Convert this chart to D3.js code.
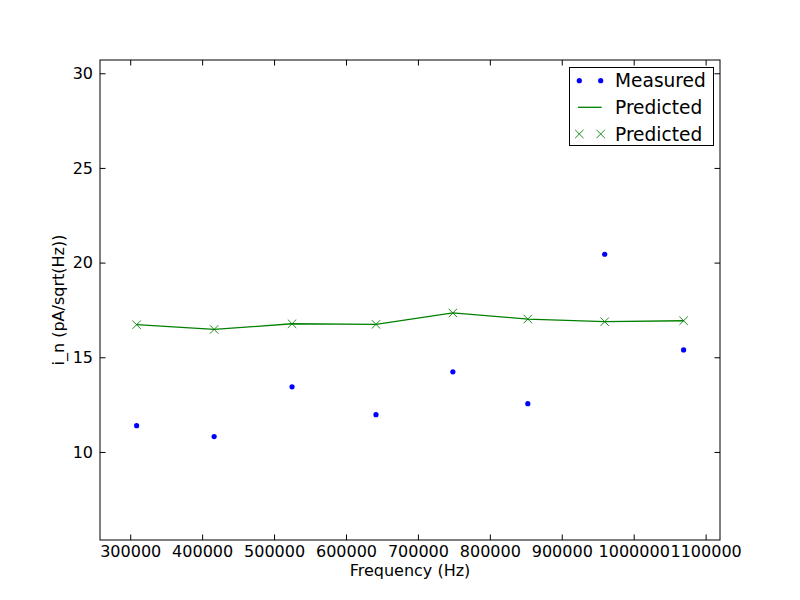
<!DOCTYPE html>
<html>
<head>
<meta charset="utf-8">
<script src="https://cdn.jsdelivr.net/npm/d3@7"></script>
<style>
  body { margin: 0; background: #fff; }
  svg { font-family: "DejaVu Sans", sans-serif; }
</style>
</head>
<body>
<div id="chart"></div>
<script>
// Noise current vs frequency: measured points and predicted curve

var freq = [308900, 416700, 525000, 641700, 748600, 852800, 959700, 1069400];
var measured = [11.39, 10.81, 13.44, 11.97, 14.23, 12.55, 20.44, 15.39];
var predicted = [16.72, 16.47, 16.77, 16.74, 17.34, 17.02, 16.88, 16.93];
var xTicks = [300000, 400000, 500000, 600000, 700000, 800000, 900000, 1000000, 1100000];
var yTicks = [10, 15, 20, 25, 30];
var legendNames = ["Measured", "Predicted", "Predicted"];

var svgWidth = 800, svgHeight = 600;
var margin = {top: 60, right: 80, bottom: 60, left: 100};
var chartWidth = svgWidth - margin.left - margin.right;
var chartHeight = svgHeight - margin.top - margin.bottom;

var svg = d3.select("#chart").append("svg")
    .attr("width", svgWidth)
    .attr("height", svgHeight);

var chartGroup = svg.append("g")
    .attr("transform", `translate(${margin.left}, ${margin.top})`);

var xScale = d3.scaleLinear().domain([258000, 1120000]).range([0, chartWidth]);
var yScale = d3.scaleLinear().domain([5.35, 30.7]).range([chartHeight, 0]);

var tickLen = 5.5;

// bottom axis (ticks pointing in)
var xAxis = chartGroup.append("g")
    .attr("transform", `translate(0, ${chartHeight})`)
    .call(d3.axisBottom(xScale).tickValues(xTicks).tickFormat(d3.format("d"))
        .tickSizeInner(-tickLen).tickSizeOuter(0).tickPadding(5.7));

var yAxis = chartGroup.append("g")
    .call(d3.axisLeft(yScale).tickValues(yTicks).tickFormat(d3.format("d"))
        .tickSizeInner(-tickLen).tickSizeOuter(0).tickPadding(7));

var topAxis = chartGroup.append("g")
    .call(d3.axisTop(xScale).tickValues(xTicks).tickFormat("")
        .tickSizeInner(-tickLen).tickSizeOuter(0));

var rightAxis = chartGroup.append("g")
    .attr("transform", `translate(${chartWidth}, 0)`)
    .call(d3.axisRight(yScale).tickValues(yTicks).tickFormat("")
        .tickSizeInner(-tickLen).tickSizeOuter(0));

[xAxis, yAxis, topAxis, rightAxis].forEach(function(a) {
    a.select(".domain").remove();
    a.selectAll("line").attr("stroke", "#000").attr("stroke-width", 1);
    a.selectAll("text").attr("font-size", "16px").attr("fill", "#000")
        .attr("font-family", "DejaVu Sans");
});

// frame
chartGroup.append("rect")
    .attr("x", 0).attr("y", 0)
    .attr("width", chartWidth).attr("height", chartHeight)
    .attr("fill", "none").attr("stroke", "#000").attr("stroke-width", 1);

// predicted line
var line = d3.line()
    .x((d, i) => xScale(freq[i]))
    .y(d => yScale(d));

chartGroup.append("path")
    .datum(predicted)
    .attr("d", line)
    .attr("fill", "none")
    .attr("stroke", "#008000")
    .attr("stroke-width", 1.3);

// predicted crosses
var cs = 4.2;
function cross(g, cx, cy) {
    g.append("path")
        .attr("d", `M${cx - cs},${cy - cs}L${cx + cs},${cy + cs}M${cx - cs},${cy + cs}L${cx + cs},${cy - cs}`)
        .attr("stroke", "#008000")
        .attr("stroke-width", 0.9)
        .attr("fill", "none");
}
predicted.forEach(function(d, i) {
    cross(chartGroup, xScale(freq[i]), yScale(d));
});

// measured dots
chartGroup.selectAll("circle.measured")
    .data(measured)
    .enter()
    .append("circle")
    .attr("class", "measured")
    .attr("cx", (d, i) => xScale(freq[i]))
    .attr("cy", d => yScale(d))
    .attr("r", 2.6)
    .attr("fill", "#0000ff");

// axis labels
svg.append("text")
    .attr("x", margin.left + chartWidth / 2)
    .attr("y", 576)
    .attr("text-anchor", "middle")
    .attr("font-size", "16px")
    .text("Frequency (Hz)");

svg.append("text")
    .attr("transform", "translate(64, 300) rotate(-90)")
    .attr("text-anchor", "middle")
    .attr("font-size", "16px")
    .text("i_n (pA/sqrt(Hz))");

// legend
var legend = svg.append("g");
legend.append("rect")
    .attr("x", 569.5).attr("y", 67.5)
    .attr("width", 144).attr("height", 78)
    .attr("fill", "#fff").attr("stroke", "#000").attr("stroke-width", 1);

var rowY = [80.7, 107.3, 134];
legend.selectAll("text")
    .data(legendNames)
    .enter()
    .append("text")
    .attr("x", 615)
    .attr("y", (d, i) => rowY[i])
    .attr("dy", "0.36em")
    .attr("font-size", "18.6px")
    .text(d => d);

[579.3, 600.7].forEach(function(x) {
    legend.append("circle")
        .attr("cx", x).attr("cy", rowY[0]).attr("r", 2.6).attr("fill", "#0000ff");
    cross(legend, x, rowY[2]);
});
legend.append("line")
    .attr("x1", 578).attr("x2", 601.7)
    .attr("y1", rowY[1]).attr("y2", rowY[1])
    .attr("stroke", "#008000").attr("stroke-width", 1.3);
</script>
</body>
</html>
